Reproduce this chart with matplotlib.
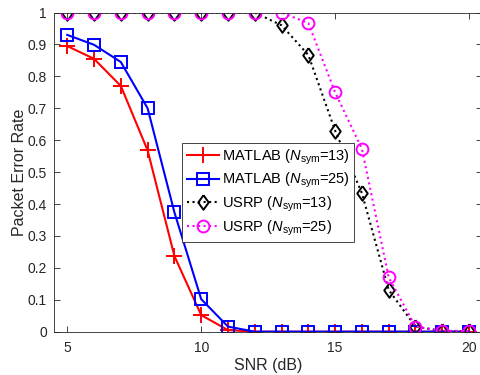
import numpy as np
import matplotlib.pyplot as plt
from matplotlib.ticker import FormatStrFormatter

plt.rcParams['font.family'] = ['Liberation Sans', 'DejaVu Sans']
plt.rcParams['mathtext.fontset'] = 'custom'
plt.rcParams['mathtext.it'] = 'Liberation Sans:italic'
plt.rcParams['mathtext.rm'] = 'Liberation Sans'

# SNR sweep (dB)
snr = [5, 6, 7, 8, 9, 10, 11, 12, 13, 14, 15, 16, 17, 18, 19, 20]

# packet error rate per setup
matlab_13 = [0.895, 0.855, 0.77, 0.568, 0.237, 0.052, 0.005, 0, 0, 0, 0, 0, 0, 0, 0, 0]
matlab_25 = [0.93, 0.899, 0.845, 0.70, 0.374, 0.102, 0.016, 0, 0, 0, 0, 0, 0, 0, 0, 0]
usrp_13 = [1, 1, 1, 1, 1, 1, 1, 1, 0.96, 0.867, 0.63, 0.434, 0.131, 0.016, 0.002, 0.002]
usrp_25 = [1, 1, 1, 1, 1, 1, 1, 1, 1, 0.967, 0.75, 0.573, 0.17, 0.016, 0.003, 0.002]

# tall diamond, like matlab's 'd'
diamond = [(0, 1), (0.72, 0), (0, -1), (-0.72, 0), (0, 1)]

fig = plt.figure(figsize=(4.81, 3.75), dpi=100)
ax = fig.add_axes([0.112, 0.1155, 0.891, 0.851])

ax.plot(snr, matlab_13, color='#FF0000', marker='+', markersize=11, markeredgewidth=1.4,
        linewidth=1.5, label=r'MATLAB ($N_{\mathrm{sym}}$=13)')
ax.plot(snr, matlab_25, color='#0000FF', marker='s', markersize=8, markerfacecolor='none',
        markeredgewidth=1.4, linewidth=1.5, label=r'MATLAB ($N_{\mathrm{sym}}$=25)')
ax.plot(snr, usrp_13, color='k', linestyle=':', marker=diamond, markersize=10.5,
        markerfacecolor='none', markeredgewidth=1.4, linewidth=1.5,
        label=r'USRP ($N_{\mathrm{sym}}$=13)')
ax.plot(snr, usrp_25, color='#FF00FF', linestyle=':', marker='o', markersize=8.5,
        markerfacecolor='none', markeredgewidth=1.4, linewidth=1.5,
        label=r'USRP ($N_{\mathrm{sym}}$=25)')

ax.set_xlim(4.5, 20.5)
ax.set_ylim(0, 1)
ax.set_xticks([5, 10, 15, 20])
ax.set_yticks(np.linspace(0, 1, 11))
ax.yaxis.set_major_formatter(FormatStrFormatter('%g'))
ax.tick_params(direction='in', top=True, right=True, labelsize=10,
               colors='#262626', length=4, width=0.6)
ax.tick_params(axis='x', pad=7)
ax.tick_params(axis='y', pad=5)
for s in ax.spines.values():
    s.set_color('#262626')
    s.set_linewidth(0.6)

ax.set_xlabel('SNR (dB)', fontsize=11.5, color='#262626', labelpad=2)
ax.set_ylabel('Packet Error Rate', fontsize=11.5, color='#262626', labelpad=0.5)

leg = ax.legend(loc='lower left', bbox_to_anchor=(0.3, 0.281), fontsize=10.5,
                fancybox=False, framealpha=1, edgecolor='#262626',
                borderpad=0.3, labelspacing=0.3, handlelength=2.2,
                handletextpad=0.2, borderaxespad=0)
leg.get_frame().set_linewidth(0.6)

fig.savefig('out.png', dpi=100)
